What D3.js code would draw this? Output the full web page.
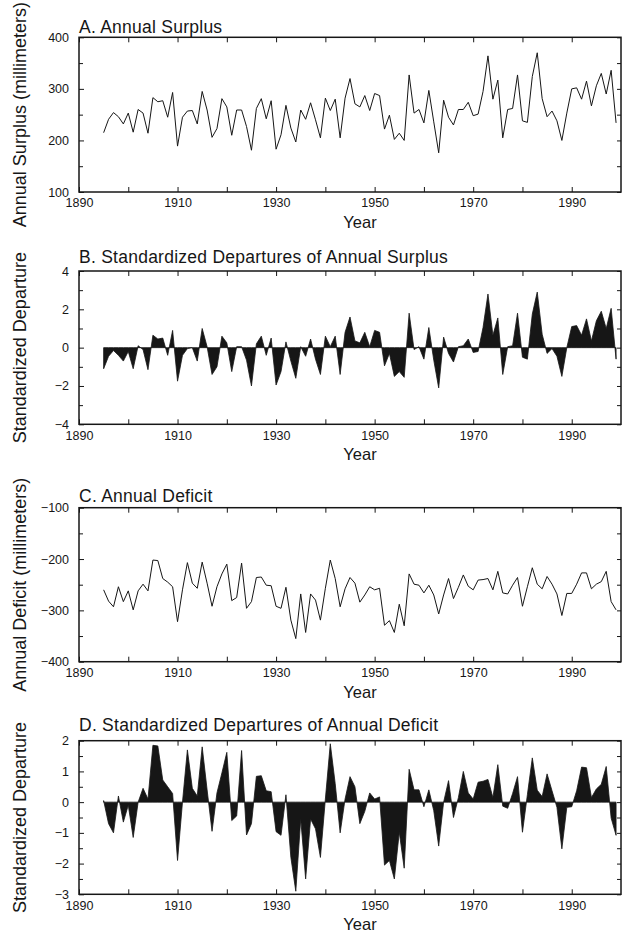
<!DOCTYPE html>
<html><head><meta charset="utf-8">
<script src="https://cdn.jsdelivr.net/npm/d3@7/dist/d3.min.js"></script>
<style>
body{margin:0;background:#fff}
text{font-family:"Liberation Sans",Arial,Helvetica,sans-serif;fill:#161616}
</style>
</head><body>
<svg id="chart" width="624" height="935"></svg>
<script>
// ---------- data ----------
const years = [1895,1896,1897,1898,1899,1900,1901,1902,1903,1904,1905,1906,1907,1908,1909,
1910,1911,1912,1913,1914,1915,1916,1917,1918,1919,1920,1921,1922,1923,1924,1925,1926,1927,1928,1929,
1930,1931,1932,1933,1934,1935,1936,1937,1938,1939,1940,1941,1942,1943,1944,1945,1946,1947,1948,1949,
1950,1951,1952,1953,1954,1955,1956,1957,1958,1959,1960,1961,1962,1963,1964,1965,1966,1967,1968,1969,
1970,1971,1972,1973,1974,1975,1976,1977,1978,1979,1980,1981,1982,1983,1984,1985,1986,1987,1988,1989,
1990,1991,1992,1993,1994,1995,1996,1997,1998,1999];

const annualSurplus = [215,241,254,246,232,253,216,260,253,214,283,275,277,245,293,
189,245,257,258,232,295,259,206,223,281,265,210,259,259,227,181,262,281,242,277,
183,211,268,224,197,259,241,273,240,205,282,258,280,205,282,320,271,265,287,258,
291,287,222,249,202,214,200,327,253,260,234,297,236,176,278,245,230,260,260,274,
248,251,295,364,280,317,205,260,262,327,238,235,324,370,281,246,257,238,200,253,
300,302,280,315,267,306,330,290,336,234];

const surplusDeparture = [-1.1,-0.45,-0.15,-0.4,-0.7,-0.2,-1.1,0.1,-0.1,-1.15,0.65,0.45,0.5,-0.4,0.9,
-1.75,-0.4,-0.05,0.0,-0.7,1.0,0.05,-1.4,-1.0,0.6,0.25,-1.25,0.05,0.05,-0.65,-2.0,0.2,0.6,-0.4,0.5,
-1.95,-1.25,0.3,-0.7,-1.6,0.05,-0.45,0.45,-0.6,-1.4,0.6,0.05,0.6,-1.4,0.8,1.6,0.35,0.25,0.8,0.05,
0.9,0.8,-0.95,-0.3,-1.5,-1.25,-1.55,1.8,-0.1,0.05,-0.6,1.05,-0.65,-2.1,0.55,-0.3,-0.75,0.05,0.1,0.45,
-0.25,-0.2,1.05,2.8,0.65,1.55,-1.4,0.05,0.1,1.8,-0.5,-0.6,1.75,2.9,0.7,-0.3,-0.05,-0.45,-1.5,0.0,
1.1,1.15,0.65,1.5,0.35,1.4,1.9,1.0,2.05,-0.6];

const annualDeficit = [-260,-282,-293,-254,-283,-262,-299,-262,-249,-262,-202,-203,-238,-245,-254,
-322,-260,-207,-247,-257,-206,-247,-292,-254,-229,-210,-281,-275,-208,-296,-283,-236,-235,-251,-252,
-292,-296,-255,-319,-355,-268,-343,-268,-280,-319,-257,-202,-238,-293,-258,-236,-247,-284,-270,-254,
-260,-257,-329,-320,-343,-288,-330,-229,-249,-251,-266,-251,-270,-307,-270,-238,-277,-255,-231,-253,
-260,-241,-240,-238,-260,-224,-266,-268,-251,-236,-292,-254,-217,-249,-258,-234,-249,-268,-310,-267,
-267,-249,-227,-227,-258,-249,-244,-224,-283,-299];

const deficitDeparture = [0.05,-0.7,-1.0,0.2,-0.65,-0.1,-1.15,0.0,0.45,0.1,1.85,1.83,0.72,0.5,0.28,
-1.9,0.0,1.7,0.45,0.2,1.8,0.4,-0.95,0.3,0.95,1.62,-0.6,-0.45,1.68,-1.07,-0.7,0.84,0.86,0.37,0.34,
-0.96,-1.08,0.24,-1.8,-2.9,-0.55,-2.5,-0.55,-0.87,-1.8,0.1,1.9,0.6,-1.0,0.1,0.83,0.5,-0.7,-0.3,0.3,
0.1,0.17,-2.05,-1.9,-2.5,-0.98,-2.15,1.07,0.4,0.4,-0.15,0.4,-0.28,-1.43,0.0,0.7,-0.5,0.15,1.0,0.3,
0.1,0.65,0.68,0.74,0.15,1.22,-0.13,-0.2,0.28,0.83,-0.98,0.24,1.44,0.39,0.18,0.92,0.37,-0.17,-1.52,-0.17,
-0.15,0.37,1.14,1.12,0.15,0.43,0.58,1.16,-0.52,-1.08];

// tick labels
const yearDomain = [1890, 2000];
const yearTicks = [1890,1910,1930,1950,1970,1990];
const yearMinorTicks = [1900,1920,1940,1960,1980];
const surplusTicks = [100,200,300,400], surplusMinor = [150,250,350];
const surplusDepTicks = [-4,-2,0,2,4], surplusDepMinor = [-3,-1,1,3];
const deficitTicks = [-400,-300,-200,-100], deficitMinor = [-350,-250,-150];
const deficitDepTicks = [-3,-2,-1,0,1,2], deficitDepMinor = [-2.5,-1.5,-0.5,0.5,1.5];

const titles = ["A. Annual Surplus","B. Standardized Departures of Annual Surplus","C. Annual Deficit","D. Standardized Departures of Annual Deficit"];
const yLabels = ["Annual Surplus (millimeters)","Standardized Departure","Annual Deficit (millimeters)","Standardized Departure"];
const xLabel = "Year";

// ---------- layout ----------
const left = 79, right = 621;
const panels = [
  {title:titles[0], ylab:yLabels[0], values:annualSurplus, kind:"line", dom:[100,400], top:37.3, bottom:192, ticks:surplusTicks, minor:surplusMinor, titleY:32.7},
  {title:titles[1], ylab:yLabels[1], values:surplusDeparture, kind:"area", dom:[-4,4], top:271, bottom:424.3, ticks:surplusDepTicks, minor:surplusDepMinor, titleY:263},
  {title:titles[2], ylab:yLabels[2], values:annualDeficit, kind:"line", dom:[-400,-100], top:507.7, bottom:661.7, ticks:deficitTicks, minor:deficitMinor, titleY:502.3},
  {title:titles[3], ylab:yLabels[3], values:deficitDeparture, kind:"area", dom:[-3,2], top:740.7, bottom:894.3, ticks:deficitDepTicks, minor:deficitDepMinor, titleY:730.7}
];

const svg = d3.select("#chart");
const x = d3.scaleLinear().domain(yearDomain).range([left, right]);
const ink = "#161616";

panels.forEach(p => {
  const y = d3.scaleLinear().domain(p.dom).range([p.bottom, p.top]);
  const g = svg.append("g");
  const rows = years.map((yr, i) => ({year: yr, v: p.values[i]}));

  // data
  if (p.kind === "line") {
    g.append("path").datum(rows)
      .attr("fill","none").attr("stroke",ink).attr("stroke-width",1)
      .attr("stroke-linejoin","miter")
      .attr("d", d3.line().x(d=>x(d.year)).y(d=>y(d.v)));
  } else {
    g.append("path").datum(rows)
      .attr("fill",ink).attr("stroke",ink).attr("stroke-width",0.8)
      .attr("d", d3.area().x(d=>x(d.year)).y0(y(0)).y1(d=>y(d.v)));
  }

  // axes
  const fs = "12.5px";
  const bx = g.append("g").attr("transform",`translate(0,${p.bottom})`)
    .call(d3.axisBottom(x).tickValues(yearTicks).tickSize(-5).tickSizeOuter(0).tickPadding(6.6).tickFormat(d3.format("d")));
  const bxm = g.append("g").attr("transform",`translate(0,${p.bottom})`)
    .call(d3.axisBottom(x).tickValues(yearMinorTicks).tickSize(-5).tickSizeOuter(0).tickFormat(""));
  const tx = g.append("g").attr("transform",`translate(0,${p.top})`)
    .call(d3.axisTop(x).tickValues(yearTicks.concat(yearMinorTicks)).tickSize(-5).tickSizeOuter(0).tickFormat(""));
  const ly = g.append("g").attr("transform",`translate(${left},0)`)
    .call(d3.axisLeft(y).tickValues(p.ticks).tickSize(-5).tickSizeOuter(0).tickPadding(10).tickFormat(d3.format("d")));
  const lym = g.append("g").attr("transform",`translate(${left},0)`)
    .call(d3.axisLeft(y).tickValues(p.minor).tickSize(-4).tickSizeOuter(0).tickFormat(""));
  const ry = g.append("g").attr("transform",`translate(${right},0)`)
    .call(d3.axisRight(y).tickValues(p.ticks.concat(p.minor)).tickSize(-4).tickSizeOuter(0).tickFormat(""));
  [bx,bxm,tx,ly,lym,ry].forEach(a => {
    a.select(".domain").remove();
    a.selectAll("line").attr("stroke",ink).attr("stroke-width",1);
    a.selectAll("text").style("font-size",fs).style("font-family",'"Liberation Sans",Arial,sans-serif').attr("fill",ink);
  });

  // frame
  g.append("rect").attr("x",left).attr("y",p.top)
    .attr("width",right-left).attr("height",p.bottom-p.top)
    .attr("fill","none").attr("stroke",ink).attr("stroke-width",1.5);

  // title
  g.append("text").attr("x",left).attr("y",p.titleY)
    .style("font-size","17.5px").style("letter-spacing","0.25px").text(p.title);

  // y label
  g.append("text")
    .attr("transform",`translate(26,${(p.top+p.bottom)/2}) rotate(-90)`)
    .attr("text-anchor","middle").style("font-size","18px").text(p.ylab);

  // x label
  g.append("text").attr("x",360).attr("y",p.bottom+36)
    .attr("text-anchor","middle").style("font-size","16.5px").text(xLabel);
});
</script>
</body></html>
